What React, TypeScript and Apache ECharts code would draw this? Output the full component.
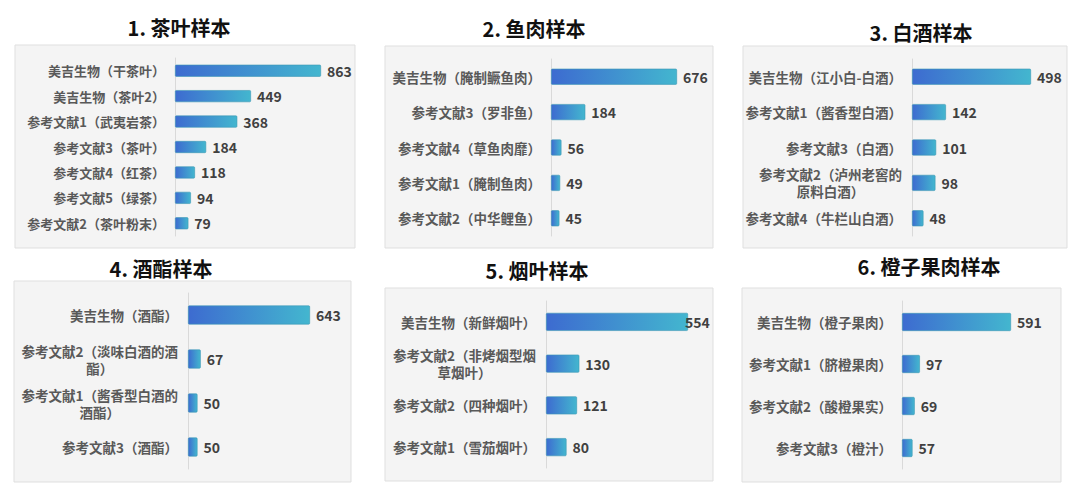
import React from "react";
import * as echarts from "echarts";

// ---------- data ----------
const teaCats = ["美吉生物（干茶叶）", "美吉生物（茶叶2）", "参考文献1（武夷岩茶）", "参考文献3（茶叶）", "参考文献4（红茶）", "参考文献5（绿茶）", "参考文献2（茶叶粉末）"];
const teaVals = [863, 449, 368, 184, 118, 94, 79];

const fishCats = ["美吉生物（腌制鳜鱼肉）", "参考文献3（罗非鱼）", "参考文献4（草鱼肉靡）", "参考文献1（腌制鱼肉）", "参考文献2（中华鲤鱼）"];
const fishVals = [676, 184, 56, 49, 45];

const liquorCats = ["美吉生物（江小白-白酒）", "参考文献1（酱香型白酒）", "参考文献3（白酒）", "参考文献2（泸州老窖的\n原料白酒）", "参考文献4（牛栏山白酒）"];
const liquorVals = [498, 142, 101, 98, 48];

const esterCats = ["美吉生物（酒酯）", "参考文献2（淡味白酒的酒\n酯）", "参考文献1（酱香型白酒的\n酒酯）", "参考文献3（酒酯）"];
const esterVals = [643, 67, 50, 50];

const tobaccoCats = ["美吉生物（新鲜烟叶）", "参考文献2（非烤烟型烟\n草烟叶）", "参考文献2（四种烟叶）", "参考文献1（雪茄烟叶）"];
const tobaccoVals = [554, 130, 121, 80];

const orangeCats = ["美吉生物（橙子果肉）", "参考文献1（脐橙果肉）", "参考文献2（酸橙果实）", "参考文献3（橙汁）"];
const orangeVals = [591, 97, 69, 57];

const titles = ["1. 茶叶样本", "2. 鱼肉样本", "3. 白酒样本", "4. 酒酯样本", "5. 烟叶样本", "6. 橙子果肉样本"];

// ---------- layout (pixels on the 1080x493 canvas) ----------
const panels = [
  { cats: teaCats, vals: teaVals, box: [15, 45, 340, 203], title: [174, 12], grid: [175, 58, 146, 178], bar: 12, font: 13 },
  { cats: fishCats, vals: fishVals, box: [385, 46, 328, 202], title: [529, 13], grid: [551, 59, 126, 177], bar: 16, font: 13.5 },
  { cats: liquorCats, vals: liquorVals, box: [743, 46, 324, 202], title: [916, 17], grid: [912, 59, 119, 177], bar: 16, font: 13.5 },
  { cats: esterCats, vals: esterVals, box: [14, 281, 337, 201], title: [156, 253], grid: [188, 293, 122, 176], bar: 19, font: 13.5 },
  { cats: tobaccoCats, vals: tobaccoVals, box: [385, 288, 328, 193], title: [532, 255], grid: [546, 301, 142, 167], bar: 18, font: 13.5, firstShift: -9 },
  { cats: orangeCats, vals: orangeVals, box: [742, 288, 319, 194], title: [924, 251], grid: [902, 301, 109, 168], bar: 18, font: 13.5 },
];

const FONT = '"Noto Sans CJK SC", "Noto Sans", sans-serif';

function buildOption(): echarts.EChartsOption {
  const barColor = new echarts.graphic.LinearGradient(0, 0, 1, 0, [
    { offset: 0, color: "#3d6bd0" },
    { offset: 1, color: "#43b6cf" },
  ]);
  return {
    animation: false,
    backgroundColor: "#ffffff",
    title: panels.map((p, i) => ({
      text: titles[i],
      left: p.title[0],
      top: p.title[1],
      textAlign: "center",
      textStyle: { fontFamily: FONT, fontSize: 20, fontWeight: "bold", color: "#111" },
    })),
    graphic: panels.map(p => ({
      type: "rect",
      z: -10,
      shape: { x: p.box[0], y: p.box[1], width: p.box[2], height: p.box[3] },
      style: { fill: "#f4f4f4", stroke: "#dfdfdf", lineWidth: 1 },
    })),
    grid: panels.map(p => ({
      left: p.grid[0], top: p.grid[1], width: p.grid[2], height: p.grid[3], containLabel: false,
    })),
    xAxis: panels.map((_, i) => ({
      type: "value", gridIndex: i, min: 0, max: "dataMax", show: false,
    })),
    yAxis: panels.map((p, i) => ({
      type: "category",
      gridIndex: i,
      inverse: true,
      data: p.cats,
      axisLine: { show: true, lineStyle: { color: "#d9d9d9", width: 1 } },
      axisTick: { show: false },
      axisLabel: {
        margin: 10,
        align: "right",
        // wrapped labels are centred line by line, as in the original
        formatter: (v: string) => v.split("\n").map(l => `{c|${l}}`).join("\n"),
        rich: {
          c: {
            align: "center",
            fontFamily: FONT,
            fontSize: p.font,
            fontWeight: "bold",
            color: "#595959",
            lineHeight: 17,
          },
        },
      },
    })),
    series: panels.map((p, i) => ({
      type: "bar",
      xAxisIndex: i,
      yAxisIndex: i,
      barWidth: p.bar,
      data: p.vals.map((v, j) =>
        j === 0 && p.firstShift ? { value: v, label: { offset: [p.firstShift, 0] } } : v
      ),
      itemStyle: { color: barColor, borderColor: "#3a97b3", borderWidth: 0.6, borderRadius: 1 },
      label: {
        show: true,
        position: "right",
        distance: 6,
        fontFamily: FONT,
        fontSize: 14,
        fontWeight: "bold",
        color: "#404040",
      },
    })),
  };
}

export default function App() {
  const ref = React.useRef<HTMLDivElement>(null);

  React.useEffect(() => {
    document.body.style.margin = "0";
    const el = ref.current;
    if (!el) return;
    const chart = echarts.init(el, undefined, { renderer: "svg" });
    chart.setOption(buildOption());
    return () => chart.dispose();
  }, []);

  return <div ref={ref} style={{ width: 1080, height: 493 }} />;
}
